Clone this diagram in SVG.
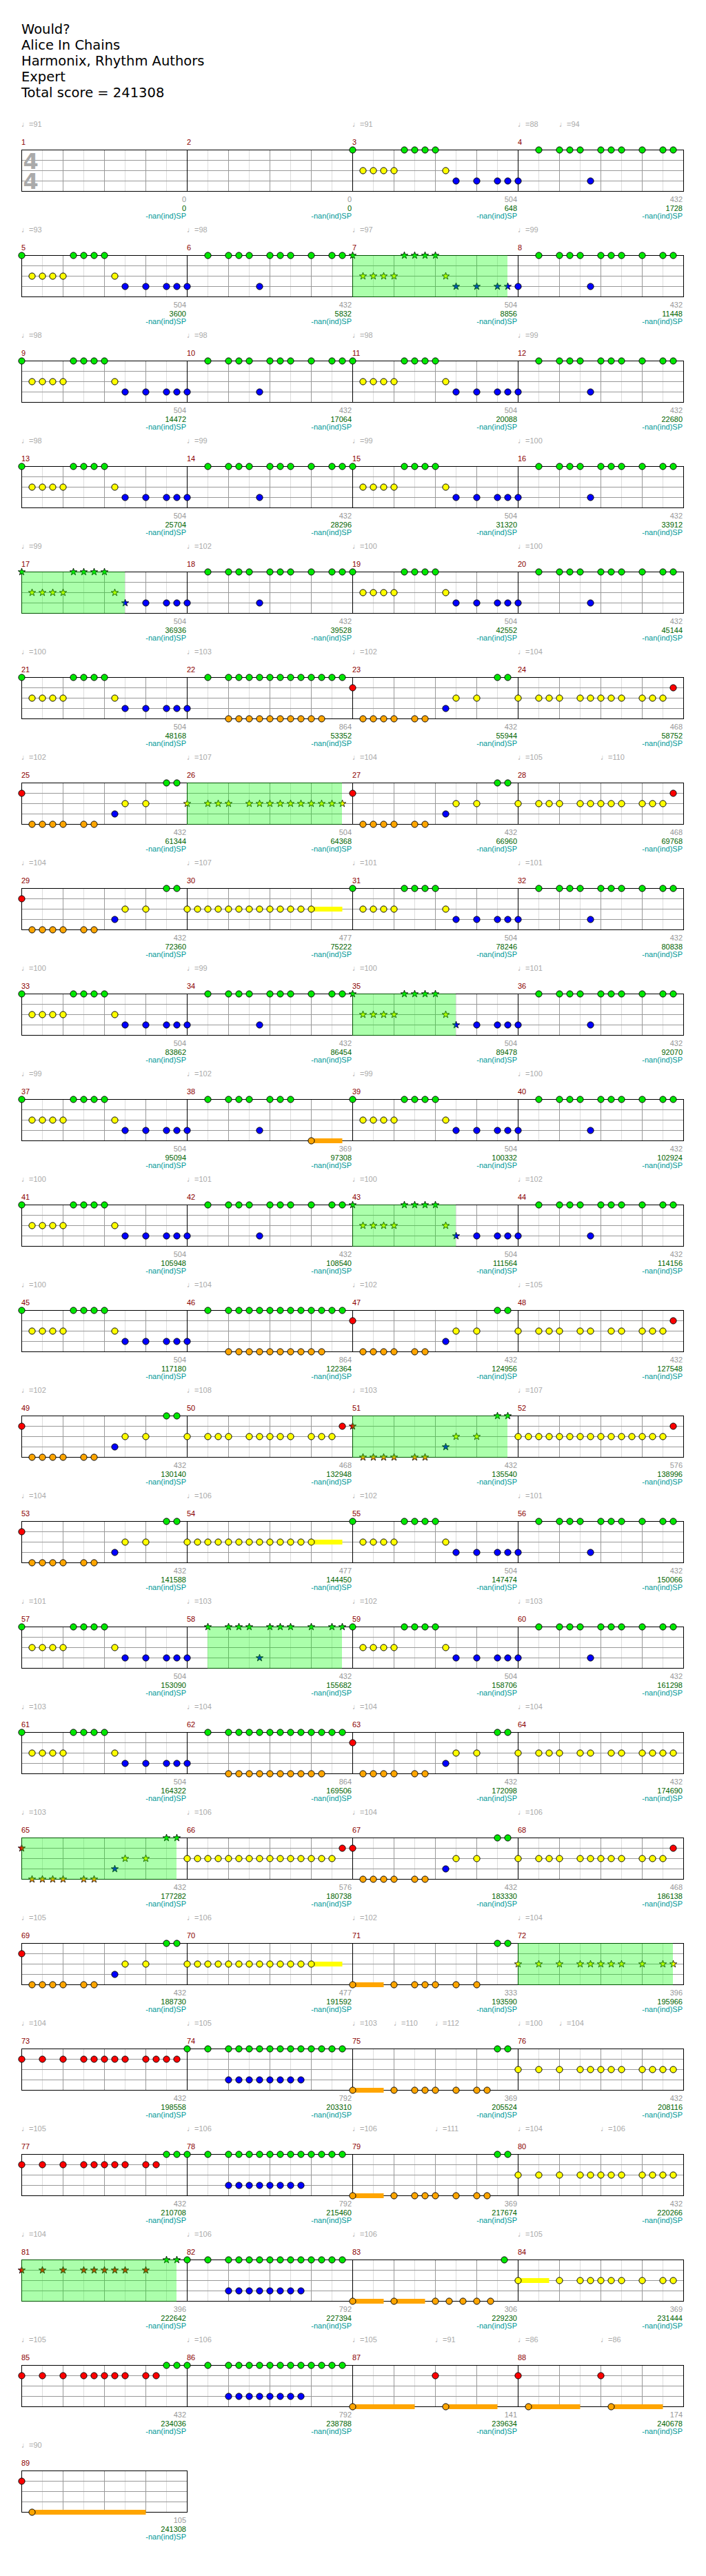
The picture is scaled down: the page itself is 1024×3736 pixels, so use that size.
<svg xmlns="http://www.w3.org/2000/svg" xmlns:xlink="http://www.w3.org/1999/xlink" width="1024" height="3736" viewBox="0 0 1024 3736">
<style>
text{font-family:"Liberation Sans","DejaVu Sans",sans-serif;font-size:11px}
.ti{font-family:"DejaVu Sans",sans-serif;font-size:19.5px;fill:#000}
.ts{font-family:"DejaVu Sans",sans-serif;font-size:32px;font-weight:bold;fill:#aaa}
.tp{fill:#aaa}
.mn{fill:#8b0000}
.s1{fill:#999;text-anchor:end}
.s2{fill:#006400;text-anchor:end}
.s3{fill:#009999;text-anchor:end}
.hl{fill:#00ff00;fill-opacity:.33}
.l1{stroke:#ddd;fill:none}
.l2{stroke:#999;fill:none}
.l3{stroke:#000;fill:none}
.bo{fill:#ffa500}
.by{fill:#ff0}
.st{stroke:#000;stroke-width:.8}
.nt{stroke:#000;stroke-width:1}
</style>
<defs>
<circle id="G" class="nt" cx=".5" cy=".5" r="4.6" fill="#00e600"/>
<circle id="R" class="nt" cx=".5" cy="15.5" r="4.6" fill="#ff0000"/>
<circle id="Y" class="nt" cx=".5" cy="30.5" r="4.6" fill="#ffff00"/>
<circle id="B" class="nt" cx=".5" cy="45.5" r="4.6" fill="#0000ff"/>
<circle id="O" class="nt" cx=".5" cy="60.5" r="4.6" fill="#ffa500"/>
<polygon id="sG" class="st" fill="#00e600" points="0.5,-5 1.79,-1.28 5.73,-1.2 2.59,1.18 3.73,4.95 0.5,2.7 -2.73,4.95 -1.59,1.18 -4.73,-1.2 -0.79,-1.28"/>
<polygon id="sR" class="st" fill="#ff0000" transform="translate(0,15)" points="0.5,-5 1.79,-1.28 5.73,-1.2 2.59,1.18 3.73,4.95 0.5,2.7 -2.73,4.95 -1.59,1.18 -4.73,-1.2 -0.79,-1.28"/>
<polygon id="sY" class="st" fill="#ffff00" transform="translate(0,30)" points="0.5,-5 1.79,-1.28 5.73,-1.2 2.59,1.18 3.73,4.95 0.5,2.7 -2.73,4.95 -1.59,1.18 -4.73,-1.2 -0.79,-1.28"/>
<polygon id="sB" class="st" fill="#0000ff" transform="translate(0,45)" points="0.5,-5 1.79,-1.28 5.73,-1.2 2.59,1.18 3.73,4.95 0.5,2.7 -2.73,4.95 -1.59,1.18 -4.73,-1.2 -0.79,-1.28"/>
<polygon id="sO" class="st" fill="#ffa500" transform="translate(0,60)" points="0.5,-5 1.79,-1.28 5.73,-1.2 2.59,1.18 3.73,4.95 0.5,2.7 -2.73,4.95 -1.59,1.18 -4.73,-1.2 -0.79,-1.28"/>
<g id="mg"><path class="l1" d="M30.5 .5V60.5M90.5 .5V60.5M150.5 .5V60.5M210.5 .5V60.5"/><path class="l2" d="M60.5 .5V60.5M120.5 .5V60.5M180.5 .5V60.5"/></g>
<g id="g4"><use href="#mg"/><use href="#mg" x="240"/><use href="#mg" x="480"/><use href="#mg" x="720"/><path class="l2" d="M.5 15.5H960.5M.5 30.5H960.5M.5 45.5H960.5"/><path class="l3" d="M240.5 .5V60.5M480.5 .5V60.5M720.5 .5V60.5"/><rect class="l3" x=".5" y=".5" width="960" height="60"/></g>
<g id="g1"><use href="#mg"/><path class="l2" d="M.5 15.5H240.5M.5 30.5H240.5M.5 45.5H240.5"/><rect class="l3" x=".5" y=".5" width="240" height="60"/></g>
<g id="a1c"><use href="#G"/><use href="#Y" x="15"/><use href="#Y" x="30"/><use href="#Y" x="45"/><use href="#Y" x="60"/><use href="#G" x="75"/><use href="#G" x="90"/><use href="#G" x="105"/><use href="#G" x="120"/><use href="#Y" x="135"/><use href="#B" x="150"/></g>
<g id="a2c"><use href="#B" x="180"/><use href="#B" x="210"/><use href="#B" x="225"/></g>
<g id="a1s"><use href="#sG"/><use href="#sY" x="15"/><use href="#sY" x="30"/><use href="#sY" x="45"/><use href="#sY" x="60"/><use href="#sG" x="75"/><use href="#sG" x="90"/><use href="#sG" x="105"/><use href="#sG" x="120"/><use href="#sY" x="135"/><use href="#sB" x="150"/></g>
<g id="a2s"><use href="#sB" x="180"/><use href="#sB" x="210"/><use href="#sB" x="225"/></g>
<g id="pA"><use href="#a1c"/><use href="#a2c"/></g>
<g id="br"><use href="#G" x="30"/><use href="#G" x="60"/><use href="#G" x="75"/><use href="#G" x="90"/><use href="#B" x="105"/><use href="#G" x="120"/><use href="#G" x="135"/><use href="#G" x="150"/><use href="#G" x="180"/><use href="#G" x="210"/><use href="#G" x="225"/></g>
<g id="brs"><use href="#sG" x="30"/><use href="#sG" x="60"/><use href="#sG" x="75"/><use href="#sG" x="90"/><use href="#sB" x="105"/><use href="#sG" x="120"/><use href="#sG" x="135"/><use href="#sG" x="150"/><use href="#sG" x="180"/><use href="#sG" x="210"/><use href="#sG" x="225"/></g>
<g id="pB"><use href="#B"/><use href="#br"/></g>
<g id="pC"><use href="#B"/><use href="#G" x="30"/><use href="#G" x="60"/><use href="#G" x="75"/><use href="#G" x="90"/><use href="#G" x="105"/><use href="#G" x="120"/><use href="#G" x="135"/><use href="#G" x="150"/><use href="#G" x="165"/><use href="#G" x="180"/><use href="#G" x="195"/><use href="#G" x="210"/><use href="#G" x="225"/><use href="#O" x="60"/><use href="#O" x="75"/><use href="#O" x="90"/><use href="#O" x="105"/><use href="#O" x="120"/><use href="#O" x="135"/><use href="#O" x="150"/><use href="#O" x="165"/><use href="#O" x="180"/><use href="#O" x="195"/></g>
<g id="pD"><use href="#R"/><use href="#O" x="15"/><use href="#O" x="30"/><use href="#O" x="45"/><use href="#O" x="60"/><use href="#O" x="90"/><use href="#O" x="105"/><use href="#B" x="135"/><use href="#Y" x="150"/><use href="#Y" x="180"/><use href="#G" x="210"/><use href="#G" x="225"/></g>
<g id="pDs"><use href="#sR"/><use href="#sO" x="15"/><use href="#sO" x="30"/><use href="#sO" x="45"/><use href="#sO" x="60"/><use href="#sO" x="90"/><use href="#sO" x="105"/><use href="#sB" x="135"/><use href="#sY" x="150"/><use href="#sY" x="180"/><use href="#sG" x="210"/><use href="#sG" x="225"/></g>
<g id="pE"><use href="#Y"/><use href="#Y" x="30"/><use href="#Y" x="45"/><use href="#Y" x="60"/><use href="#Y" x="90"/><use href="#Y" x="105"/><use href="#Y" x="120"/><use href="#Y" x="135"/><use href="#Y" x="150"/><use href="#Y" x="180"/><use href="#Y" x="195"/><use href="#Y" x="210"/><use href="#R" x="225"/></g>
<g id="pE2"><use href="#Y"/><use href="#Y" x="30"/><use href="#Y" x="45"/><use href="#Y" x="60"/><use href="#Y" x="90"/><use href="#Y" x="105"/><use href="#Y" x="135"/><use href="#Y" x="150"/><use href="#Y" x="180"/><use href="#Y" x="195"/><use href="#Y" x="210"/><use href="#R" x="225"/></g>
<g id="pFs"><use href="#sY"/><use href="#sY" x="30"/><use href="#sY" x="45"/><use href="#sY" x="60"/><use href="#sY" x="90"/><use href="#sY" x="105"/><use href="#sY" x="120"/><use href="#sY" x="135"/><use href="#sY" x="150"/><use href="#sY" x="165"/><use href="#sY" x="180"/><use href="#sY" x="195"/><use href="#sY" x="210"/><use href="#sY" x="225"/></g>
<g id="pG"><rect class="by" x="180.5" y="27" width="45" height="7"/><use href="#Y"/><use href="#Y" x="15"/><use href="#Y" x="30"/><use href="#Y" x="45"/><use href="#Y" x="60"/><use href="#Y" x="75"/><use href="#Y" x="90"/><use href="#Y" x="105"/><use href="#Y" x="120"/><use href="#Y" x="135"/><use href="#Y" x="150"/><use href="#Y" x="165"/><use href="#Y" x="180"/></g>
<g id="pH"><use href="#B"/><use href="#G" x="30"/><use href="#G" x="60"/><use href="#G" x="75"/><use href="#G" x="90"/><use href="#B" x="105"/><use href="#G" x="120"/><use href="#G" x="135"/><use href="#G" x="150"/><rect class="bo" x="180.5" y="57" width="45" height="7"/><use href="#O" x="180"/></g>
<g id="pI"><use href="#Y"/><use href="#Y" x="15"/><use href="#Y" x="30"/><use href="#Y" x="45"/><use href="#Y" x="60"/><use href="#Y" x="75"/><use href="#Y" x="90"/><use href="#Y" x="105"/><use href="#Y" x="120"/><use href="#Y" x="135"/><use href="#Y" x="150"/><use href="#Y" x="165"/><use href="#Y" x="180"/><use href="#Y" x="195"/><use href="#Y" x="210"/><use href="#R" x="225"/></g>
<g id="pJ"><use href="#Y"/><use href="#Y" x="30"/><use href="#Y" x="45"/><use href="#Y" x="60"/><use href="#Y" x="90"/><use href="#Y" x="105"/><use href="#Y" x="135"/><use href="#Y" x="150"/><use href="#Y" x="180"/><use href="#Y" x="195"/><use href="#Y" x="210"/><use href="#Y" x="225"/></g>
<g id="pK"><rect class="bo" x=".5" y="57" width="45" height="7"/><use href="#O"/><use href="#O" x="60"/><use href="#O" x="90"/><use href="#O" x="105"/><use href="#O" x="120"/><use href="#O" x="150"/><use href="#O" x="180"/><use href="#G" x="210"/><use href="#G" x="225"/></g>
<g id="pK2"><use href="#pK"/><use href="#O" x="195"/></g>
<g id="pLs"><use href="#sY"/><use href="#sY" x="30"/><use href="#sY" x="60"/><use href="#sY" x="90"/><use href="#sY" x="105"/><use href="#sY" x="120"/><use href="#sY" x="135"/><use href="#sY" x="150"/><use href="#sY" x="180"/><use href="#sY" x="210"/><use href="#sY" x="225"/></g>
<g id="pL2"><use href="#Y"/><use href="#Y" x="30"/><use href="#Y" x="60"/><use href="#Y" x="90"/><use href="#Y" x="105"/><use href="#Y" x="120"/><use href="#Y" x="135"/><use href="#Y" x="150"/><use href="#Y" x="180"/><use href="#Y" x="195"/><use href="#Y" x="210"/><use href="#Y" x="225"/></g>
<g id="rM"><use href="#R"/><use href="#R" x="30"/><use href="#R" x="60"/><use href="#R" x="90"/><use href="#R" x="105"/><use href="#R" x="120"/><use href="#R" x="135"/><use href="#R" x="150"/><use href="#R" x="180"/><use href="#R" x="195"/></g>
<g id="pM"><use href="#rM"/><use href="#R" x="210"/><use href="#R" x="225"/></g>
<g id="pM2"><use href="#rM"/><use href="#G" x="210"/><use href="#G" x="225"/></g>
<g id="pMs"><use href="#sR"/><use href="#sR" x="30"/><use href="#sR" x="60"/><use href="#sR" x="90"/><use href="#sR" x="105"/><use href="#sR" x="120"/><use href="#sR" x="135"/><use href="#sR" x="150"/><use href="#sR" x="180"/><use href="#sG" x="210"/><use href="#sG" x="225"/></g>
<g id="pN"><use href="#G"/><use href="#G" x="30"/><use href="#G" x="60"/><use href="#G" x="75"/><use href="#G" x="90"/><use href="#G" x="105"/><use href="#G" x="120"/><use href="#G" x="135"/><use href="#G" x="150"/><use href="#G" x="165"/><use href="#G" x="180"/><use href="#G" x="195"/><use href="#G" x="210"/><use href="#G" x="225"/><use href="#B" x="60"/><use href="#B" x="75"/><use href="#B" x="90"/><use href="#B" x="105"/><use href="#B" x="120"/><use href="#B" x="135"/><use href="#B" x="150"/><use href="#B" x="165"/></g>
<g id="pP"><rect class="bo" x=".5" y="57" width="45" height="7"/><rect class="bo" x="60.5" y="57" width="45" height="7"/><use href="#O"/><use href="#O" x="60"/><use href="#O" x="120"/><use href="#O" x="140"/><use href="#O" x="160"/><use href="#O" x="180"/><use href="#O" x="200"/><use href="#G" x="220"/></g>
<g id="pQ"><rect class="by" x=".5" y="27" width="45" height="7"/><use href="#Y"/><use href="#Y" x="60"/><use href="#Y" x="90"/><use href="#Y" x="105"/><use href="#Y" x="120"/><use href="#Y" x="135"/><use href="#Y" x="150"/><use href="#Y" x="180"/><use href="#Y" x="210"/><use href="#Y" x="225"/></g>
<g id="p87"><rect class="bo" x=".5" y="57" width="90" height="7"/><rect class="bo" x="135.5" y="57" width="75" height="7"/><use href="#O"/><use href="#R" x="120"/><use href="#O" x="135"/></g>
<g id="p88"><rect class="bo" x="15.5" y="57" width="75" height="7"/><rect class="bo" x="135.5" y="57" width="75" height="7"/><use href="#R"/><use href="#O" x="15"/><use href="#R" x="120"/><use href="#O" x="135"/></g>
<g id="p89"><rect class="bo" x="15.5" y="57" width="165" height="7"/><use href="#R"/><use href="#O" x="15"/></g>
</defs>
<rect width="1024" height="3736" fill="#fff"/>
<g id="title">
<text class="ti" x="31" y="49">Would?</text>
<text class="ti" x="31" y="72">Alice In Chains</text>
<text class="ti" x="31" y="95">Harmonix, Rhythm Authors</text>
<text class="ti" x="31" y="118">Expert</text>
<text class="ti" x="31" y="141">Total score = 241308</text>
</g>

<g id="row1" transform="translate(31,217)"><use href="#g4"/>
<text class="ts" x="2.5" y="28">4</text><text class="ts" x="2.5" y="57">4</text>
<g id="m1"><text class="mn" y="-7">1</text><text class="tp" y="-33">♩=91</text><text class="s1" x="239" y="76">0</text><text class="s2" x="239" y="89">0</text><text class="s3" x="239" y="100">-nan(ind)SP</text></g>
<g id="m2" transform="translate(240)"><text class="mn" y="-7">2</text><text class="s1" x="239" y="76">0</text><text class="s2" x="239" y="89">0</text><text class="s3" x="239" y="100">-nan(ind)SP</text></g>
<g id="m3" transform="translate(480)"><use href="#pA"/><text class="mn" y="-7">3</text><text class="tp" y="-33">♩=91</text><text class="s1" x="239" y="76">504</text><text class="s2" x="239" y="89">648</text><text class="s3" x="239" y="100">-nan(ind)SP</text></g>
<g id="m4" transform="translate(720)"><use href="#pB"/><text class="mn" y="-7">4</text><text class="tp" y="-33">♩=88</text><text class="tp" x="60" y="-33">♩=94</text><text class="s1" x="239" y="76">432</text><text class="s2" x="239" y="89">1728</text><text class="s3" x="239" y="100">-nan(ind)SP</text></g>
</g>

<g id="row2" transform="translate(31,370)"><use href="#g4"/>
<g id="m5"><use href="#pA"/><text class="mn" y="-7">5</text><text class="tp" y="-33">♩=93</text><text class="s1" x="239" y="76">504</text><text class="s2" x="239" y="89">3600</text><text class="s3" x="239" y="100">-nan(ind)SP</text></g>
<g id="m6" transform="translate(240)"><use href="#pB"/><text class="mn" y="-7">6</text><text class="tp" y="-33">♩=98</text><text class="s1" x="239" y="76">432</text><text class="s2" x="239" y="89">5832</text><text class="s3" x="239" y="100">-nan(ind)SP</text></g>
<g id="m7" transform="translate(480)"><use href="#a1s"/><use href="#a2s"/><rect class="hl" width="225" height="61"/><text class="mn" y="-7">7</text><text class="tp" y="-33">♩=97</text><text class="s1" x="239" y="76">504</text><text class="s2" x="239" y="89">8856</text><text class="s3" x="239" y="100">-nan(ind)SP</text></g>
<g id="m8" transform="translate(720)"><use href="#pB"/><text class="mn" y="-7">8</text><text class="tp" y="-33">♩=99</text><text class="s1" x="239" y="76">432</text><text class="s2" x="239" y="89">11448</text><text class="s3" x="239" y="100">-nan(ind)SP</text></g>
</g>

<g id="row3" transform="translate(31,523)"><use href="#g4"/>
<g id="m9"><use href="#pA"/><text class="mn" y="-7">9</text><text class="tp" y="-33">♩=98</text><text class="s1" x="239" y="76">504</text><text class="s2" x="239" y="89">14472</text><text class="s3" x="239" y="100">-nan(ind)SP</text></g>
<g id="m10" transform="translate(240)"><use href="#pB"/><text class="mn" y="-7">10</text><text class="tp" y="-33">♩=98</text><text class="s1" x="239" y="76">432</text><text class="s2" x="239" y="89">17064</text><text class="s3" x="239" y="100">-nan(ind)SP</text></g>
<g id="m11" transform="translate(480)"><use href="#pA"/><text class="mn" y="-7">11</text><text class="tp" y="-33">♩=98</text><text class="s1" x="239" y="76">504</text><text class="s2" x="239" y="89">20088</text><text class="s3" x="239" y="100">-nan(ind)SP</text></g>
<g id="m12" transform="translate(720)"><use href="#pB"/><text class="mn" y="-7">12</text><text class="tp" y="-33">♩=99</text><text class="s1" x="239" y="76">432</text><text class="s2" x="239" y="89">22680</text><text class="s3" x="239" y="100">-nan(ind)SP</text></g>
</g>

<g id="row4" transform="translate(31,676)"><use href="#g4"/>
<g id="m13"><use href="#pA"/><text class="mn" y="-7">13</text><text class="tp" y="-33">♩=98</text><text class="s1" x="239" y="76">504</text><text class="s2" x="239" y="89">25704</text><text class="s3" x="239" y="100">-nan(ind)SP</text></g>
<g id="m14" transform="translate(240)"><use href="#pB"/><text class="mn" y="-7">14</text><text class="tp" y="-33">♩=99</text><text class="s1" x="239" y="76">432</text><text class="s2" x="239" y="89">28296</text><text class="s3" x="239" y="100">-nan(ind)SP</text></g>
<g id="m15" transform="translate(480)"><use href="#pA"/><text class="mn" y="-7">15</text><text class="tp" y="-33">♩=99</text><text class="s1" x="239" y="76">504</text><text class="s2" x="239" y="89">31320</text><text class="s3" x="239" y="100">-nan(ind)SP</text></g>
<g id="m16" transform="translate(720)"><use href="#pB"/><text class="mn" y="-7">16</text><text class="tp" y="-33">♩=100</text><text class="s1" x="239" y="76">432</text><text class="s2" x="239" y="89">33912</text><text class="s3" x="239" y="100">-nan(ind)SP</text></g>
</g>

<g id="row5" transform="translate(31,829)"><use href="#g4"/>
<g id="m17"><use href="#a1s"/><use href="#a2c"/><rect class="hl" width="150" height="61"/><text class="mn" y="-7">17</text><text class="tp" y="-33">♩=99</text><text class="s1" x="239" y="76">504</text><text class="s2" x="239" y="89">36936</text><text class="s3" x="239" y="100">-nan(ind)SP</text></g>
<g id="m18" transform="translate(240)"><use href="#pB"/><text class="mn" y="-7">18</text><text class="tp" y="-33">♩=102</text><text class="s1" x="239" y="76">432</text><text class="s2" x="239" y="89">39528</text><text class="s3" x="239" y="100">-nan(ind)SP</text></g>
<g id="m19" transform="translate(480)"><use href="#pA"/><text class="mn" y="-7">19</text><text class="tp" y="-33">♩=100</text><text class="s1" x="239" y="76">504</text><text class="s2" x="239" y="89">42552</text><text class="s3" x="239" y="100">-nan(ind)SP</text></g>
<g id="m20" transform="translate(720)"><use href="#pB"/><text class="mn" y="-7">20</text><text class="tp" y="-33">♩=100</text><text class="s1" x="239" y="76">432</text><text class="s2" x="239" y="89">45144</text><text class="s3" x="239" y="100">-nan(ind)SP</text></g>
</g>

<g id="row6" transform="translate(31,982)"><use href="#g4"/>
<g id="m21"><use href="#pA"/><text class="mn" y="-7">21</text><text class="tp" y="-33">♩=100</text><text class="s1" x="239" y="76">504</text><text class="s2" x="239" y="89">48168</text><text class="s3" x="239" y="100">-nan(ind)SP</text></g>
<g id="m22" transform="translate(240)"><use href="#pC"/><text class="mn" y="-7">22</text><text class="tp" y="-33">♩=103</text><text class="s1" x="239" y="76">864</text><text class="s2" x="239" y="89">53352</text><text class="s3" x="239" y="100">-nan(ind)SP</text></g>
<g id="m23" transform="translate(480)"><use href="#pD"/><text class="mn" y="-7">23</text><text class="tp" y="-33">♩=102</text><text class="s1" x="239" y="76">432</text><text class="s2" x="239" y="89">55944</text><text class="s3" x="239" y="100">-nan(ind)SP</text></g>
<g id="m24" transform="translate(720)"><use href="#pE"/><text class="mn" y="-7">24</text><text class="tp" y="-33">♩=104</text><text class="s1" x="239" y="76">468</text><text class="s2" x="239" y="89">58752</text><text class="s3" x="239" y="100">-nan(ind)SP</text></g>
</g>

<g id="row7" transform="translate(31,1135)"><use href="#g4"/>
<g id="m25"><use href="#pD"/><text class="mn" y="-7">25</text><text class="tp" y="-33">♩=102</text><text class="s1" x="239" y="76">432</text><text class="s2" x="239" y="89">61344</text><text class="s3" x="239" y="100">-nan(ind)SP</text></g>
<g id="m26" transform="translate(240)"><use href="#pFs"/><rect class="hl" width="225" height="61"/><text class="mn" y="-7">26</text><text class="tp" y="-33">♩=107</text><text class="s1" x="239" y="76">504</text><text class="s2" x="239" y="89">64368</text><text class="s3" x="239" y="100">-nan(ind)SP</text></g>
<g id="m27" transform="translate(480)"><use href="#pD"/><text class="mn" y="-7">27</text><text class="tp" y="-33">♩=104</text><text class="s1" x="239" y="76">432</text><text class="s2" x="239" y="89">66960</text><text class="s3" x="239" y="100">-nan(ind)SP</text></g>
<g id="m28" transform="translate(720)"><use href="#pE"/><text class="mn" y="-7">28</text><text class="tp" y="-33">♩=105</text><text class="tp" x="120" y="-33">♩=110</text><text class="s1" x="239" y="76">468</text><text class="s2" x="239" y="89">69768</text><text class="s3" x="239" y="100">-nan(ind)SP</text></g>
</g>

<g id="row8" transform="translate(31,1288)"><use href="#g4"/>
<g id="m29"><use href="#pD"/><text class="mn" y="-7">29</text><text class="tp" y="-33">♩=104</text><text class="s1" x="239" y="76">432</text><text class="s2" x="239" y="89">72360</text><text class="s3" x="239" y="100">-nan(ind)SP</text></g>
<g id="m30" transform="translate(240)"><use href="#pG"/><text class="mn" y="-7">30</text><text class="tp" y="-33">♩=107</text><text class="s1" x="239" y="76">477</text><text class="s2" x="239" y="89">75222</text><text class="s3" x="239" y="100">-nan(ind)SP</text></g>
<g id="m31" transform="translate(480)"><use href="#pA"/><text class="mn" y="-7">31</text><text class="tp" y="-33">♩=101</text><text class="s1" x="239" y="76">504</text><text class="s2" x="239" y="89">78246</text><text class="s3" x="239" y="100">-nan(ind)SP</text></g>
<g id="m32" transform="translate(720)"><use href="#pB"/><text class="mn" y="-7">32</text><text class="tp" y="-33">♩=101</text><text class="s1" x="239" y="76">432</text><text class="s2" x="239" y="89">80838</text><text class="s3" x="239" y="100">-nan(ind)SP</text></g>
</g>

<g id="row9" transform="translate(31,1441)"><use href="#g4"/>
<g id="m33"><use href="#pA"/><text class="mn" y="-7">33</text><text class="tp" y="-33">♩=100</text><text class="s1" x="239" y="76">504</text><text class="s2" x="239" y="89">83862</text><text class="s3" x="239" y="100">-nan(ind)SP</text></g>
<g id="m34" transform="translate(240)"><use href="#pB"/><text class="mn" y="-7">34</text><text class="tp" y="-33">♩=99</text><text class="s1" x="239" y="76">432</text><text class="s2" x="239" y="89">86454</text><text class="s3" x="239" y="100">-nan(ind)SP</text></g>
<g id="m35" transform="translate(480)"><use href="#a1s"/><use href="#a2c"/><rect class="hl" width="150" height="61"/><text class="mn" y="-7">35</text><text class="tp" y="-33">♩=100</text><text class="s1" x="239" y="76">504</text><text class="s2" x="239" y="89">89478</text><text class="s3" x="239" y="100">-nan(ind)SP</text></g>
<g id="m36" transform="translate(720)"><use href="#pB"/><text class="mn" y="-7">36</text><text class="tp" y="-33">♩=101</text><text class="s1" x="239" y="76">432</text><text class="s2" x="239" y="89">92070</text><text class="s3" x="239" y="100">-nan(ind)SP</text></g>
</g>

<g id="row10" transform="translate(31,1594)"><use href="#g4"/>
<g id="m37"><use href="#pA"/><text class="mn" y="-7">37</text><text class="tp" y="-33">♩=99</text><text class="s1" x="239" y="76">504</text><text class="s2" x="239" y="89">95094</text><text class="s3" x="239" y="100">-nan(ind)SP</text></g>
<g id="m38" transform="translate(240)"><use href="#pH"/><text class="mn" y="-7">38</text><text class="tp" y="-33">♩=102</text><text class="s1" x="239" y="76">369</text><text class="s2" x="239" y="89">97308</text><text class="s3" x="239" y="100">-nan(ind)SP</text></g>
<g id="m39" transform="translate(480)"><use href="#pA"/><text class="mn" y="-7">39</text><text class="tp" y="-33">♩=99</text><text class="s1" x="239" y="76">504</text><text class="s2" x="239" y="89">100332</text><text class="s3" x="239" y="100">-nan(ind)SP</text></g>
<g id="m40" transform="translate(720)"><use href="#pB"/><text class="mn" y="-7">40</text><text class="tp" y="-33">♩=100</text><text class="s1" x="239" y="76">432</text><text class="s2" x="239" y="89">102924</text><text class="s3" x="239" y="100">-nan(ind)SP</text></g>
</g>

<g id="row11" transform="translate(31,1747)"><use href="#g4"/>
<g id="m41"><use href="#pA"/><text class="mn" y="-7">41</text><text class="tp" y="-33">♩=100</text><text class="s1" x="239" y="76">504</text><text class="s2" x="239" y="89">105948</text><text class="s3" x="239" y="100">-nan(ind)SP</text></g>
<g id="m42" transform="translate(240)"><use href="#pB"/><text class="mn" y="-7">42</text><text class="tp" y="-33">♩=101</text><text class="s1" x="239" y="76">432</text><text class="s2" x="239" y="89">108540</text><text class="s3" x="239" y="100">-nan(ind)SP</text></g>
<g id="m43" transform="translate(480)"><use href="#a1s"/><use href="#a2c"/><rect class="hl" width="150" height="61"/><text class="mn" y="-7">43</text><text class="tp" y="-33">♩=100</text><text class="s1" x="239" y="76">504</text><text class="s2" x="239" y="89">111564</text><text class="s3" x="239" y="100">-nan(ind)SP</text></g>
<g id="m44" transform="translate(720)"><use href="#pB"/><text class="mn" y="-7">44</text><text class="tp" y="-33">♩=102</text><text class="s1" x="239" y="76">432</text><text class="s2" x="239" y="89">114156</text><text class="s3" x="239" y="100">-nan(ind)SP</text></g>
</g>

<g id="row12" transform="translate(31,1900)"><use href="#g4"/>
<g id="m45"><use href="#pA"/><text class="mn" y="-7">45</text><text class="tp" y="-33">♩=100</text><text class="s1" x="239" y="76">504</text><text class="s2" x="239" y="89">117180</text><text class="s3" x="239" y="100">-nan(ind)SP</text></g>
<g id="m46" transform="translate(240)"><use href="#pC"/><text class="mn" y="-7">46</text><text class="tp" y="-33">♩=104</text><text class="s1" x="239" y="76">864</text><text class="s2" x="239" y="89">122364</text><text class="s3" x="239" y="100">-nan(ind)SP</text></g>
<g id="m47" transform="translate(480)"><use href="#pD"/><text class="mn" y="-7">47</text><text class="tp" y="-33">♩=102</text><text class="s1" x="239" y="76">432</text><text class="s2" x="239" y="89">124956</text><text class="s3" x="239" y="100">-nan(ind)SP</text></g>
<g id="m48" transform="translate(720)"><use href="#pE2"/><text class="mn" y="-7">48</text><text class="tp" y="-33">♩=105</text><text class="s1" x="239" y="76">432</text><text class="s2" x="239" y="89">127548</text><text class="s3" x="239" y="100">-nan(ind)SP</text></g>
</g>

<g id="row13" transform="translate(31,2053)"><use href="#g4"/>
<g id="m49"><use href="#pD"/><text class="mn" y="-7">49</text><text class="tp" y="-33">♩=102</text><text class="s1" x="239" y="76">432</text><text class="s2" x="239" y="89">130140</text><text class="s3" x="239" y="100">-nan(ind)SP</text></g>
<g id="m50" transform="translate(240)"><use href="#pE"/><text class="mn" y="-7">50</text><text class="tp" y="-33">♩=108</text><text class="s1" x="239" y="76">468</text><text class="s2" x="239" y="89">132948</text><text class="s3" x="239" y="100">-nan(ind)SP</text></g>
<g id="m51" transform="translate(480)"><use href="#pDs"/><rect class="hl" width="225" height="61"/><text class="mn" y="-7">51</text><text class="tp" y="-33">♩=103</text><text class="s1" x="239" y="76">432</text><text class="s2" x="239" y="89">135540</text><text class="s3" x="239" y="100">-nan(ind)SP</text></g>
<g id="m52" transform="translate(720)"><use href="#pI"/><text class="mn" y="-7">52</text><text class="tp" y="-33">♩=107</text><text class="s1" x="239" y="76">576</text><text class="s2" x="239" y="89">138996</text><text class="s3" x="239" y="100">-nan(ind)SP</text></g>
</g>

<g id="row14" transform="translate(31,2206)"><use href="#g4"/>
<g id="m53"><use href="#pD"/><text class="mn" y="-7">53</text><text class="tp" y="-33">♩=104</text><text class="s1" x="239" y="76">432</text><text class="s2" x="239" y="89">141588</text><text class="s3" x="239" y="100">-nan(ind)SP</text></g>
<g id="m54" transform="translate(240)"><use href="#pG"/><text class="mn" y="-7">54</text><text class="tp" y="-33">♩=106</text><text class="s1" x="239" y="76">477</text><text class="s2" x="239" y="89">144450</text><text class="s3" x="239" y="100">-nan(ind)SP</text></g>
<g id="m55" transform="translate(480)"><use href="#pA"/><text class="mn" y="-7">55</text><text class="tp" y="-33">♩=102</text><text class="s1" x="239" y="76">504</text><text class="s2" x="239" y="89">147474</text><text class="s3" x="239" y="100">-nan(ind)SP</text></g>
<g id="m56" transform="translate(720)"><use href="#pB"/><text class="mn" y="-7">56</text><text class="tp" y="-33">♩=101</text><text class="s1" x="239" y="76">432</text><text class="s2" x="239" y="89">150066</text><text class="s3" x="239" y="100">-nan(ind)SP</text></g>
</g>

<g id="row15" transform="translate(31,2359)"><use href="#g4"/>
<g id="m57"><use href="#pA"/><text class="mn" y="-7">57</text><text class="tp" y="-33">♩=101</text><text class="s1" x="239" y="76">504</text><text class="s2" x="239" y="89">153090</text><text class="s3" x="239" y="100">-nan(ind)SP</text></g>
<g id="m58" transform="translate(240)"><use href="#B"/><use href="#brs"/><rect class="hl" x="30" width="195" height="61"/><text class="mn" y="-7">58</text><text class="tp" y="-33">♩=103</text><text class="s1" x="239" y="76">432</text><text class="s2" x="239" y="89">155682</text><text class="s3" x="239" y="100">-nan(ind)SP</text></g>
<g id="m59" transform="translate(480)"><use href="#pA"/><text class="mn" y="-7">59</text><text class="tp" y="-33">♩=102</text><text class="s1" x="239" y="76">504</text><text class="s2" x="239" y="89">158706</text><text class="s3" x="239" y="100">-nan(ind)SP</text></g>
<g id="m60" transform="translate(720)"><use href="#pB"/><text class="mn" y="-7">60</text><text class="tp" y="-33">♩=103</text><text class="s1" x="239" y="76">432</text><text class="s2" x="239" y="89">161298</text><text class="s3" x="239" y="100">-nan(ind)SP</text></g>
</g>

<g id="row16" transform="translate(31,2512)"><use href="#g4"/>
<g id="m61"><use href="#pA"/><text class="mn" y="-7">61</text><text class="tp" y="-33">♩=103</text><text class="s1" x="239" y="76">504</text><text class="s2" x="239" y="89">164322</text><text class="s3" x="239" y="100">-nan(ind)SP</text></g>
<g id="m62" transform="translate(240)"><use href="#pC"/><text class="mn" y="-7">62</text><text class="tp" y="-33">♩=104</text><text class="s1" x="239" y="76">864</text><text class="s2" x="239" y="89">169506</text><text class="s3" x="239" y="100">-nan(ind)SP</text></g>
<g id="m63" transform="translate(480)"><use href="#pD"/><text class="mn" y="-7">63</text><text class="tp" y="-33">♩=104</text><text class="s1" x="239" y="76">432</text><text class="s2" x="239" y="89">172098</text><text class="s3" x="239" y="100">-nan(ind)SP</text></g>
<g id="m64" transform="translate(720)"><use href="#pJ"/><text class="mn" y="-7">64</text><text class="tp" y="-33">♩=104</text><text class="s1" x="239" y="76">432</text><text class="s2" x="239" y="89">174690</text><text class="s3" x="239" y="100">-nan(ind)SP</text></g>
</g>

<g id="row17" transform="translate(31,2665)"><use href="#g4"/>
<g id="m65"><use href="#pDs"/><rect class="hl" width="225" height="61"/><text class="mn" y="-7">65</text><text class="tp" y="-33">♩=103</text><text class="s1" x="239" y="76">432</text><text class="s2" x="239" y="89">177282</text><text class="s3" x="239" y="100">-nan(ind)SP</text></g>
<g id="m66" transform="translate(240)"><use href="#pI"/><text class="mn" y="-7">66</text><text class="tp" y="-33">♩=106</text><text class="s1" x="239" y="76">576</text><text class="s2" x="239" y="89">180738</text><text class="s3" x="239" y="100">-nan(ind)SP</text></g>
<g id="m67" transform="translate(480)"><use href="#pD"/><text class="mn" y="-7">67</text><text class="tp" y="-33">♩=104</text><text class="s1" x="239" y="76">432</text><text class="s2" x="239" y="89">183330</text><text class="s3" x="239" y="100">-nan(ind)SP</text></g>
<g id="m68" transform="translate(720)"><use href="#pE"/><text class="mn" y="-7">68</text><text class="tp" y="-33">♩=106</text><text class="s1" x="239" y="76">468</text><text class="s2" x="239" y="89">186138</text><text class="s3" x="239" y="100">-nan(ind)SP</text></g>
</g>

<g id="row18" transform="translate(31,2818)"><use href="#g4"/>
<g id="m69"><use href="#pD"/><text class="mn" y="-7">69</text><text class="tp" y="-33">♩=105</text><text class="s1" x="239" y="76">432</text><text class="s2" x="239" y="89">188730</text><text class="s3" x="239" y="100">-nan(ind)SP</text></g>
<g id="m70" transform="translate(240)"><use href="#pG"/><text class="mn" y="-7">70</text><text class="tp" y="-33">♩=106</text><text class="s1" x="239" y="76">477</text><text class="s2" x="239" y="89">191592</text><text class="s3" x="239" y="100">-nan(ind)SP</text></g>
<g id="m71" transform="translate(480)"><use href="#pK"/><text class="mn" y="-7">71</text><text class="tp" y="-33">♩=102</text><text class="s1" x="239" y="76">333</text><text class="s2" x="239" y="89">193590</text><text class="s3" x="239" y="100">-nan(ind)SP</text></g>
<g id="m72" transform="translate(720)"><use href="#pLs"/><rect class="hl" width="225" height="61"/><text class="mn" y="-7">72</text><text class="tp" y="-33">♩=104</text><text class="s1" x="239" y="76">396</text><text class="s2" x="239" y="89">195966</text><text class="s3" x="239" y="100">-nan(ind)SP</text></g>
</g>

<g id="row19" transform="translate(31,2971)"><use href="#g4"/>
<g id="m73"><use href="#pM"/><text class="mn" y="-7">73</text><text class="tp" y="-33">♩=104</text><text class="s1" x="239" y="76">432</text><text class="s2" x="239" y="89">198558</text><text class="s3" x="239" y="100">-nan(ind)SP</text></g>
<g id="m74" transform="translate(240)"><use href="#pN"/><text class="mn" y="-7">74</text><text class="tp" y="-33">♩=105</text><text class="s1" x="239" y="76">792</text><text class="s2" x="239" y="89">203310</text><text class="s3" x="239" y="100">-nan(ind)SP</text></g>
<g id="m75" transform="translate(480)"><use href="#pK2"/><text class="mn" y="-7">75</text><text class="tp" y="-33">♩=103</text><text class="tp" x="60" y="-33">♩=110</text><text class="tp" x="120" y="-33">♩=112</text><text class="s1" x="239" y="76">369</text><text class="s2" x="239" y="89">205524</text><text class="s3" x="239" y="100">-nan(ind)SP</text></g>
<g id="m76" transform="translate(720)"><use href="#pL2"/><text class="mn" y="-7">76</text><text class="tp" y="-33">♩=100</text><text class="tp" x="60" y="-33">♩=104</text><text class="s1" x="239" y="76">432</text><text class="s2" x="239" y="89">208116</text><text class="s3" x="239" y="100">-nan(ind)SP</text></g>
</g>

<g id="row20" transform="translate(31,3124)"><use href="#g4"/>
<g id="m77"><use href="#pM2"/><text class="mn" y="-7">77</text><text class="tp" y="-33">♩=105</text><text class="s1" x="239" y="76">432</text><text class="s2" x="239" y="89">210708</text><text class="s3" x="239" y="100">-nan(ind)SP</text></g>
<g id="m78" transform="translate(240)"><use href="#pN"/><text class="mn" y="-7">78</text><text class="tp" y="-33">♩=106</text><text class="s1" x="239" y="76">792</text><text class="s2" x="239" y="89">215460</text><text class="s3" x="239" y="100">-nan(ind)SP</text></g>
<g id="m79" transform="translate(480)"><use href="#pK2"/><text class="mn" y="-7">79</text><text class="tp" y="-33">♩=106</text><text class="tp" x="120" y="-33">♩=111</text><text class="s1" x="239" y="76">369</text><text class="s2" x="239" y="89">217674</text><text class="s3" x="239" y="100">-nan(ind)SP</text></g>
<g id="m80" transform="translate(720)"><use href="#pL2"/><text class="mn" y="-7">80</text><text class="tp" y="-33">♩=104</text><text class="tp" x="120" y="-33">♩=106</text><text class="s1" x="239" y="76">432</text><text class="s2" x="239" y="89">220266</text><text class="s3" x="239" y="100">-nan(ind)SP</text></g>
</g>

<g id="row21" transform="translate(31,3277)"><use href="#g4"/>
<g id="m81"><use href="#pMs"/><rect class="hl" width="225" height="61"/><text class="mn" y="-7">81</text><text class="tp" y="-33">♩=104</text><text class="s1" x="239" y="76">396</text><text class="s2" x="239" y="89">222642</text><text class="s3" x="239" y="100">-nan(ind)SP</text></g>
<g id="m82" transform="translate(240)"><use href="#pN"/><text class="mn" y="-7">82</text><text class="tp" y="-33">♩=106</text><text class="s1" x="239" y="76">792</text><text class="s2" x="239" y="89">227394</text><text class="s3" x="239" y="100">-nan(ind)SP</text></g>
<g id="m83" transform="translate(480)"><use href="#pP"/><text class="mn" y="-7">83</text><text class="tp" y="-33">♩=106</text><text class="s1" x="239" y="76">306</text><text class="s2" x="239" y="89">229230</text><text class="s3" x="239" y="100">-nan(ind)SP</text></g>
<g id="m84" transform="translate(720)"><use href="#pQ"/><text class="mn" y="-7">84</text><text class="tp" y="-33">♩=105</text><text class="s1" x="239" y="76">369</text><text class="s2" x="239" y="89">231444</text><text class="s3" x="239" y="100">-nan(ind)SP</text></g>
</g>

<g id="row22" transform="translate(31,3430)"><use href="#g4"/>
<g id="m85"><use href="#pM2"/><text class="mn" y="-7">85</text><text class="tp" y="-33">♩=105</text><text class="s1" x="239" y="76">432</text><text class="s2" x="239" y="89">234036</text><text class="s3" x="239" y="100">-nan(ind)SP</text></g>
<g id="m86" transform="translate(240)"><use href="#pN"/><text class="mn" y="-7">86</text><text class="tp" y="-33">♩=106</text><text class="s1" x="239" y="76">792</text><text class="s2" x="239" y="89">238788</text><text class="s3" x="239" y="100">-nan(ind)SP</text></g>
<g id="m87" transform="translate(480)"><use href="#p87"/><text class="mn" y="-7">87</text><text class="tp" y="-33">♩=105</text><text class="tp" x="120" y="-33">♩=91</text><text class="s1" x="239" y="76">141</text><text class="s2" x="239" y="89">239634</text><text class="s3" x="239" y="100">-nan(ind)SP</text></g>
<g id="m88" transform="translate(720)"><use href="#p88"/><text class="mn" y="-7">88</text><text class="tp" y="-33">♩=86</text><text class="tp" x="120" y="-33">♩=86</text><text class="s1" x="239" y="76">174</text><text class="s2" x="239" y="89">240678</text><text class="s3" x="239" y="100">-nan(ind)SP</text></g>
</g>

<g id="row23" transform="translate(31,3583)"><use href="#g1"/>
<g id="m89"><use href="#p89"/><text class="mn" y="-7">89</text><text class="tp" y="-33">♩=90</text><text class="s1" x="239" y="76">105</text><text class="s2" x="239" y="89">241308</text><text class="s3" x="239" y="100">-nan(ind)SP</text></g>
</g>
</svg>
